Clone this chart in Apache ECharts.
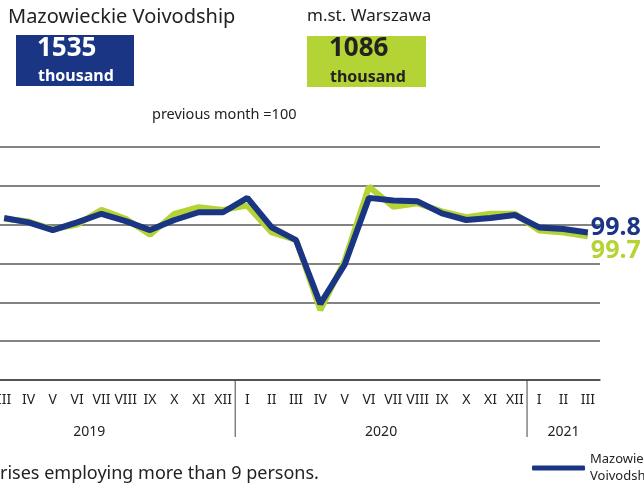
<!DOCTYPE html>
<html>
<head>
<meta charset="utf-8">
<script src="https://cdn.jsdelivr.net/npm/echarts@6/dist/echarts.min.js"></script>
<style>
  html, body { margin: 0; padding: 0; background: #fff; }
  #chart { width: 644px; height: 487px; }
</style>
</head>
<body>
<div id="chart"></div>
<script>
// months from III 2019 to III 2021
const months = ['III', 'IV', 'V', 'VI', 'VII', 'VIII', 'IX', 'X', 'XI', 'XII',
  'I', 'II', 'III', 'IV', 'V', 'VI', 'VII', 'VIII', 'IX', 'X', 'XI', 'XII',
  'I', 'II', 'III']
const years = ['2019', '2020', '2021']
// previous month = 100
const mazowieckie = [100.17, 100.06, 99.86, 100.06, 100.28, 100.09, 99.86, 100.12, 100.32, 100.32,
  100.69, 99.93, 99.6, 97.96, 98.97, 100.69, 100.62, 100.6, 100.29, 100.12, 100.17, 100.25,
  99.93, 99.89, 99.8]
const warszawa = [100.15, 100.08, 99.88, 100.0, 100.38, 100.15, 99.74, 100.28, 100.45, 100.38,
  100.49, 99.8, 99.61, 97.8, 99.07, 100.98, 100.46, 100.55, 100.34, 100.19, 100.28, 100.28,
  99.85, 99.8, 99.7]

const BLUE = '#1b3585'
const GREEN = '#b4d334'
const FONT = 'Noto Sans'

let chart = echarts.init(document.getElementById('chart'))

const option = {
  animation: false,
  textStyle: { fontFamily: FONT },
  grid: { left: -8, right: 44, top: 147, bottom: 107, outerBoundsMode: 'none', containLabel: false },
  xAxis: {
    type: 'category',
    data: months,
    axisLine: { lineStyle: { color: '#444', width: 1.5 } },
    axisTick: { show: false },
    axisLabel: { color: '#222', fontSize: 14, fontFamily: FONT, margin: 13, interval: 0 }
  },
  yAxis: {
    type: 'value',
    min: 96,
    max: 102,
    interval: 1,
    axisLabel: { show: false },
    axisLine: { show: false },
    axisTick: { show: false },
    splitLine: { lineStyle: { color: '#5a5a5a', width: 1.5 } }
  },
  legend: {
    data: [{ name: 'Mazowieckie Voivodship' }],
    left: 527,
    top: 446,
    icon: 'roundRect',
    itemWidth: 53,
    itemHeight: 5,
    itemGap: 6,
    formatter: function () { return 'Mazowieckie\nVoivodship' },
    textStyle: { fontSize: 13, color: '#222', lineHeight: 17, fontFamily: FONT }
  },
  series: [
    {
      name: 'm.st. Warszawa',
      type: 'line',
      data: warszawa,
      showSymbol: false,
      lineStyle: { color: GREEN, width: 6 },
      itemStyle: { color: GREEN },
      endLabel: {
        show: true,
        formatter: '99.7',
        color: GREEN,
        fontSize: 25,
        fontWeight: 'bold',
        fontFamily: FONT,
        offset: [-5, 15]
      }
    },
    {
      name: 'Mazowieckie Voivodship',
      type: 'line',
      data: mazowieckie,
      showSymbol: false,
      lineStyle: { color: BLUE, width: 6 },
      itemStyle: { color: BLUE },
      endLabel: {
        show: true,
        formatter: '99.8',
        color: BLUE,
        fontSize: 25,
        fontWeight: 'bold',
        fontFamily: FONT,
        offset: [-5, -5]
      }
    }
  ]
}
chart.setOption(option)

// year labels centred under each year's months (2019 starts at I, two months before the visible III)
let px = function (i) { return chart.convertToPixel({ xAxisIndex: 0 }, i) }
let step = px(1) - px(0)
let yearCenters = [px(0) + 3.5 * step, px(10) + 5.5 * step, px(23)]
let separators = [px(10) - step / 2, px(22) - step / 2]
let axisY = chart.convertToPixel({ yAxisIndex: 0 }, 96)

let graphics = [
  { type: 'text', left: 8, top: 7, style: { text: 'Mazowieckie Voivodship', font: '20px "Noto Sans"', fill: '#222' } },
  { type: 'rect', shape: { x: 16, y: 35, width: 118, height: 51 }, style: { fill: BLUE } },
  { type: 'text', left: 37, top: 36, style: { text: '1535', font: 'bold 26px "Noto Sans"', fill: '#fff' } },
  { type: 'text', left: 38, top: 68, style: { text: 'thousand', font: 'bold 16px "Noto Sans"', fill: '#fff' } },
  { type: 'text', left: 307, top: 8, style: { text: 'm.st. Warszawa', font: '17px "Noto Sans"', fill: '#222' } },
  { type: 'rect', shape: { x: 307, y: 36, width: 119, height: 51 }, style: { fill: GREEN } },
  { type: 'text', left: 329, top: 36, style: { text: '1086', font: 'bold 26px "Noto Sans"', fill: '#222' } },
  { type: 'text', left: 330, top: 69, style: { text: 'thousand', font: 'bold 16px "Noto Sans"', fill: '#222' } },
  { type: 'text', left: 152, top: 107, style: { text: 'previous month =100', font: '14.5px "Noto Sans"', fill: '#222' } },
  { type: 'text', left: 0, top: 465, style: { text: 'rises employing more than 9 persons.', font: '18px "Noto Sans"', fill: '#222' } }
]
separators.forEach(function (x) {
  graphics.push({
    type: 'line',
    shape: { x1: x, y1: axisY, x2: x, y2: axisY + 57 },
    style: { stroke: '#444', lineWidth: 1 }
  })
})
years.forEach(function (y, k) {
  graphics.push({
    type: 'text',
    x: yearCenters[k],
    y: 432,
    style: { text: y, font: '14px "Noto Sans"', fill: '#222', align: 'center', verticalAlign: 'middle' }
  })
})
chart.setOption({ graphic: graphics })
</script>
</body>
</html>
